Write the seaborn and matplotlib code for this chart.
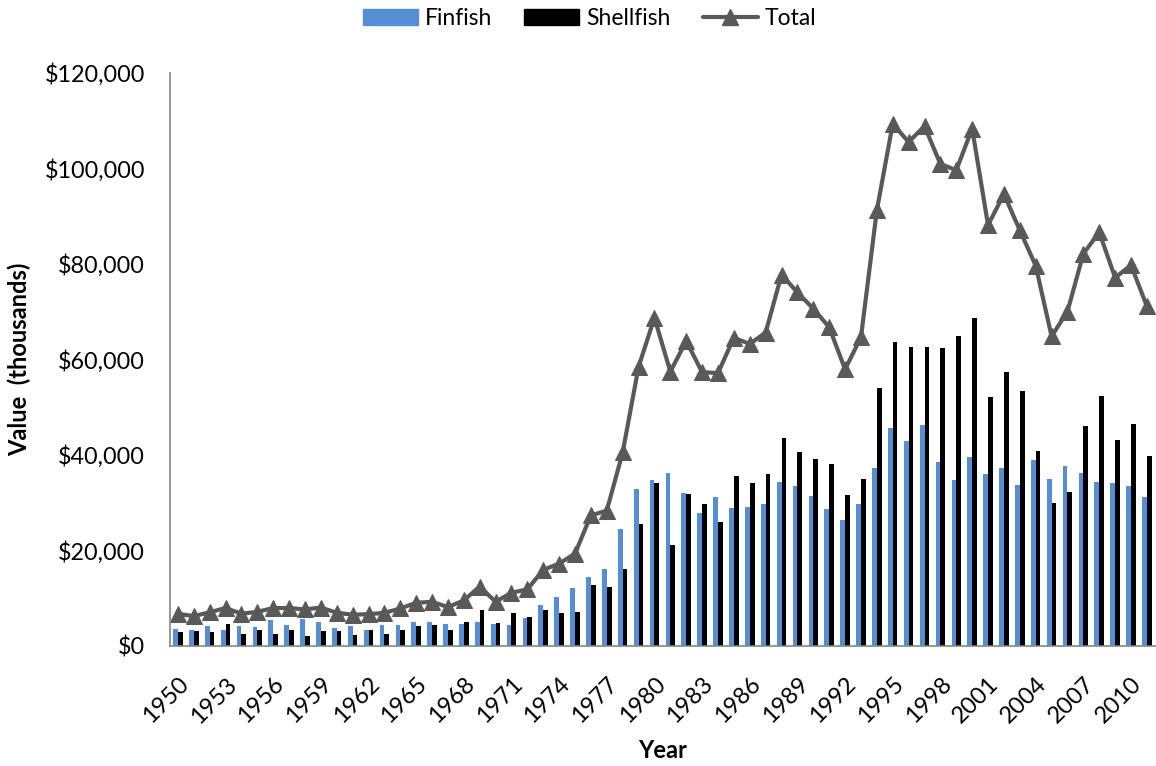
import matplotlib
matplotlib.use("Agg")
import matplotlib.pyplot as plt
from matplotlib.patches import Patch
from matplotlib.lines import Line2D
from matplotlib.ticker import FuncFormatter, FixedLocator
import seaborn as sns
import numpy as np
import pandas as pd

# ---------- data (thousands of dollars) ----------
years = list(range(1950, 2012))

finfish = [3.6, 3.2, 4.1, 3.4, 4.1, 3.9, 5.3, 4.4, 5.5, 5.0,
           3.8, 4.2, 3.3, 4.3, 4.4, 4.9, 4.9, 4.6, 4.5, 4.9,
           4.5, 4.3, 5.8, 8.5, 10.2, 12.1, 14.5, 16.0, 24.4, 32.9,
           34.7, 36.2, 32.0, 27.7, 31.2, 28.9, 29.1, 29.6, 34.2, 33.4,
           31.3, 28.6, 26.3, 29.6, 37.3, 45.7, 42.8, 46.3, 38.5, 34.8,
           39.6, 36.0, 37.3, 33.7, 38.8, 34.9, 37.6, 36.2, 34.3, 34.0,
           33.4, 31.2]

shellfish = [2.9, 3.0, 2.9, 4.6, 2.5, 3.2, 2.5, 3.4, 2.0, 3.0,
             3.1, 2.3, 3.3, 2.5, 3.4, 4.1, 4.4, 3.4, 5.0, 7.4,
             4.7, 6.8, 6.0, 7.4, 6.9, 7.0, 12.8, 12.3, 16.1, 25.6,
             34.0, 21.2, 31.8, 29.6, 26.0, 35.6, 34.0, 36.0, 43.5, 40.5,
             39.2, 38.1, 31.6, 34.9, 53.9, 63.6, 62.5, 62.5, 62.3, 64.8,
             68.7, 52.0, 57.3, 53.3, 40.7, 29.9, 32.3, 46.0, 52.3, 43.1,
             46.4, 39.8]

total = [6.7, 6.2, 7.0, 7.9, 6.7, 7.1, 7.9, 7.9, 7.6, 8.0,
         6.9, 6.5, 6.6, 6.9, 7.8, 9.0, 9.2, 8.1, 9.5, 12.4,
         9.2, 11.1, 11.8, 15.9, 17.2, 19.3, 27.3, 28.3, 40.5, 58.4,
         68.7, 57.4, 63.8, 57.3, 57.1, 64.5, 63.2, 65.6, 77.7, 74.0,
         70.6, 66.7, 57.9, 64.6, 91.2, 109.3, 105.5, 108.8, 100.9, 99.6,
         108.3, 88.1, 94.6, 87.0, 79.6, 64.8, 70.0, 82.1, 86.6, 77.1,
         79.7, 71.1]

label_years = years[::3]

blue = '#558ED5'
gray = '#595959'
axis_gray = '#868686'

df = pd.DataFrame({
    'Year': years * 2,
    'Value': [v * 1000 for v in finfish + shellfish],
    'Type': ['Finfish'] * len(years) + ['Shellfish'] * len(years),
})

sns.set_style('white')
plt.rcParams['font.family'] = ['Lato', 'DejaVu Sans']
plt.rcParams['text.color'] = 'black'
plt.rcParams['axes.labelcolor'] = 'black'
plt.rcParams['xtick.labelcolor'] = 'black'
plt.rcParams['ytick.labelcolor'] = 'black'

fig = plt.figure(figsize=(11.56, 7.66), dpi=100)
ax = fig.add_axes([0.147, 0.157, 0.852, 0.748])

sns.barplot(data=df, x='Year', y='Value', hue='Type',
            palette={'Finfish': blue, 'Shellfish': 'black'},
            width=0.6, gap=0, saturation=1, errorbar=None, legend=False,
            linewidth=0, ax=ax)

pos = np.arange(len(years))
sns.lineplot(x=pos, y=[t * 1000 for t in total], color=gray, linewidth=3,
             marker='^', markersize=12, markeredgecolor=gray, ax=ax)

ax.set_xlim(-0.5, len(years) - 0.5)
ax.set_ylim(0, 120000)
ax.set_yticks(np.arange(0, 120001, 20000))
ax.yaxis.set_major_formatter(FuncFormatter(lambda v, p: f'${v:,.0f}'))

# x labels every 3rd year, tick marks on category boundaries
ax.xaxis.set_major_locator(FixedLocator([years.index(y) for y in label_years]))
ax.set_xticklabels([str(y) for y in label_years], rotation=45, ha='right',
                   rotation_mode='anchor')
ax.xaxis.set_minor_locator(FixedLocator(np.arange(-0.5, len(years), 1)))
ax.tick_params(axis='x', which='major', length=0, pad=20, labelsize=17)
ax.tick_params(axis='x', which='minor', length=7, color=axis_gray, width=1)
ax.tick_params(axis='y', length=6, color=axis_gray, width=1, labelsize=16.8, pad=12)
ax.tick_params(axis='both', direction='out')

for s in ['top', 'right']:
    ax.spines[s].set_visible(False)
for s in ['left', 'bottom']:
    ax.spines[s].set_color(axis_gray)
    ax.spines[s].set_linewidth(1.2)

ax.set_xlabel('Year', fontsize=17, fontweight='bold')
ax.set_ylabel('Value  (thousands)', fontsize=17, fontweight='bold')
ax.xaxis.set_label_coords(0.5, -0.163)
ax.yaxis.set_label_coords(-0.141, 0.5)

handles = [Patch(color=blue), Patch(color='black'),
           Line2D([], [], color=gray, linewidth=3, marker='^', markersize=12)]
fig.legend(handles, ['Finfish', 'Shellfish', 'Total'], loc='upper center',
           bbox_to_anchor=(0.51, 1.016), ncol=3, frameon=False, fontsize=16.5,
           handlelength=2.4, handleheight=0.7, columnspacing=1.4, handletextpad=0.3)

fig.savefig('out.png', dpi=100)
